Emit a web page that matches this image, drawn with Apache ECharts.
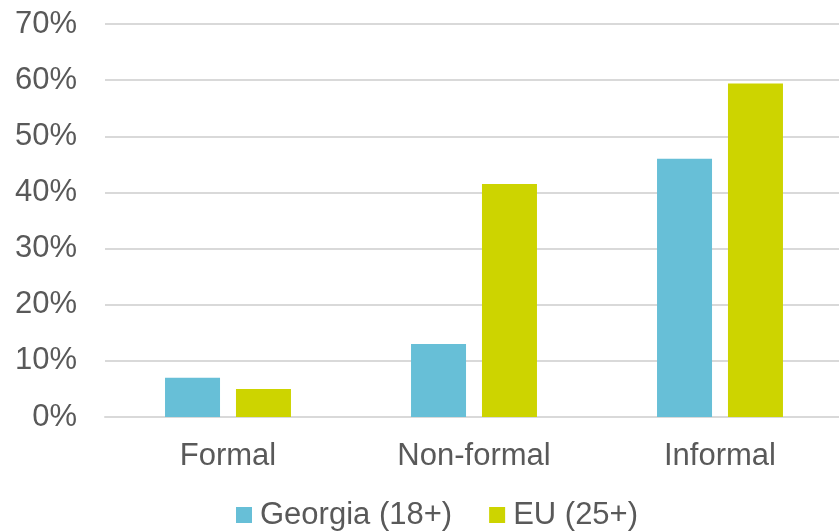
<!DOCTYPE html>
<html>
<head>
<meta charset="utf-8">
<style>
  html, body { margin: 0; padding: 0; background: #fff; overflow: hidden; }
  #wrap { width: 839px; height: 531px; overflow: hidden; }
  #chart { width: 843px; height: 531px; }
</style>
<script src="https://cdn.jsdelivr.net/npm/echarts@6/dist/echarts.min.js"></script>
</head>
<body>
<div id="wrap"><div id="chart"></div></div>
<script>
// Participation in learning by type, shares in percent
const categories = ['Formal', 'Non-formal', 'Informal'];
const georgia = [7, 13, 46];
const eu = [5, 41.5, 59.4];
const yTicks = [0, 10, 20, 30, 40, 50, 60, 70];

const textColor = '#595959';
const font = '"Liberation Sans", Arial, sans-serif';

const chart = echarts.init(document.getElementById('chart'), null, { renderer: 'canvas' });
chart.setOption({
  animation: false,
  textStyle: { fontFamily: font },
  grid: { left: 105, right: 0, top: 24, bottom: 114, containLabel: false },
  legend: {
    left: 236,
    top: 496,
    padding: 0,
    itemWidth: 16,
    itemHeight: 16,
    itemGap: 37,
    icon: 'rect',
    textStyle: { color: textColor, fontSize: 31, lineHeight: 32, fontFamily: font, padding: [6, 0, 0, 3] },
    data: ['Georgia (18+)', 'EU (25+)']
  },
  xAxis: {
    type: 'category',
    data: categories,
    axisLine: { lineStyle: { color: '#d9d9d9', width: 2 } },
    axisTick: { show: false },
    axisLabel: { color: textColor, fontSize: 31, fontFamily: font, margin: 24 }
  },
  yAxis: {
    type: 'value',
    min: yTicks[0],
    max: yTicks[yTicks.length - 1],
    interval: 10,
    axisLine: { show: false },
    axisTick: { show: false },
    splitLine: { lineStyle: { color: '#d9d9d9', width: 2 } },
    axisLabel: {
      color: textColor, fontSize: 31, fontFamily: font, margin: 28,
      formatter: v => v + '%'
    }
  },
  series: [
    {
      name: 'Georgia (18+)',
      type: 'bar',
      data: georgia,
      barWidth: 55,
      barGap: '29%',
      itemStyle: { color: '#67bfd7' }
    },
    {
      name: 'EU (25+)',
      type: 'bar',
      data: eu,
      barWidth: 55,
      itemStyle: { color: '#cdd400' }
    }
  ]
});
</script>
</body>
</html>
